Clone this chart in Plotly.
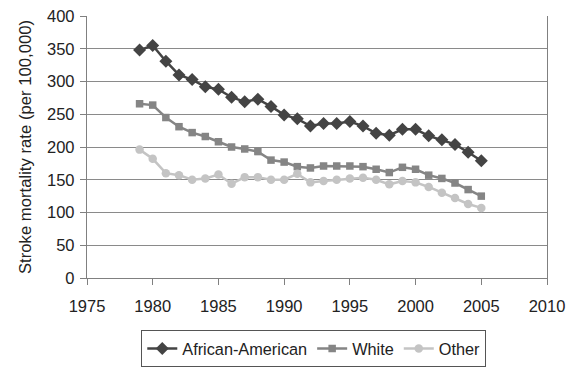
import plotly.graph_objects as go

years = list(range(1979, 2006))
african_american = [348, 355, 331, 310, 303, 292, 288, 276, 269, 273, 262, 249, 243, 232,
                    236, 236, 239, 232, 221, 218, 227, 227, 217, 211, 204, 192, 179]
white = [266, 264, 245, 231, 222, 216, 208, 200, 197, 193, 180, 177, 170, 168,
         171, 171, 171, 170, 166, 161, 169, 166, 157, 152, 145, 135, 125]
other = [196, 182, 160, 157, 150, 152, 158, 144, 154, 154, 150, 150, 159, 146,
         148, 150, 152, 153, 150, 143, 148, 146, 139, 130, 122, 113, 107]

series = [
    ("African-American", african_american, "#444444", "diamond", 10),
    ("White", white, "#858585", "square", 7.5),
    ("Other", other, "#c4c4c4", "circle", 8.5),
]

fig = go.Figure()
for name, vals, color, sym, size in series:
    fig.add_trace(go.Scatter(
        x=years, y=vals, name=name, mode="lines+markers",
        line=dict(color=color, width=2.5),
        marker=dict(symbol=sym, size=size, color=color),
    ))

font = "Liberation Sans, Arial, sans-serif"
fig.update_layout(
    width=581, height=376,
    margin=dict(l=79, r=42, t=8, b=106, autoexpand=False),
    paper_bgcolor="white", plot_bgcolor="white",
    font=dict(family=font, size=16.5, color="#222222"),
    showlegend=True,
    legend=dict(orientation="h", x=0.493, xanchor="center", y=-0.2, yanchor="top",
                bordercolor="#555555", borderwidth=1, font=dict(size=16.3),
                itemwidth=30, tracegroupgap=0),
    xaxis=dict(range=[1975, 2010], tickvals=[1975, 1980, 1985, 1990, 1995, 2000, 2005, 2010],
               showgrid=False, zeroline=False, showline=True, linecolor="#808080", linewidth=1.3,
               ticks="outside", ticklen=6, tickcolor="#808080", tickwidth=1.3,
               ticklabelstandoff=7, automargin=False, ticklabeloverflow="allow"),
    yaxis=dict(range=[0, 400], tickvals=list(range(0, 401, 50)),
               showgrid=True, gridcolor="#8a8a8a", gridwidth=1.2, zeroline=False,
               showline=True, linecolor="#808080", linewidth=1.3, mirror=True,
               ticks="outside", ticklen=6, tickcolor="#808080", tickwidth=1.3,
               ticklabelstandoff=2, automargin=False, ticklabeloverflow="allow",
               title=dict(text="Stroke mortality rate (per 100,000)", standoff=11,
                          font=dict(size=16.7))),
)

fig.write_html("out.html")
